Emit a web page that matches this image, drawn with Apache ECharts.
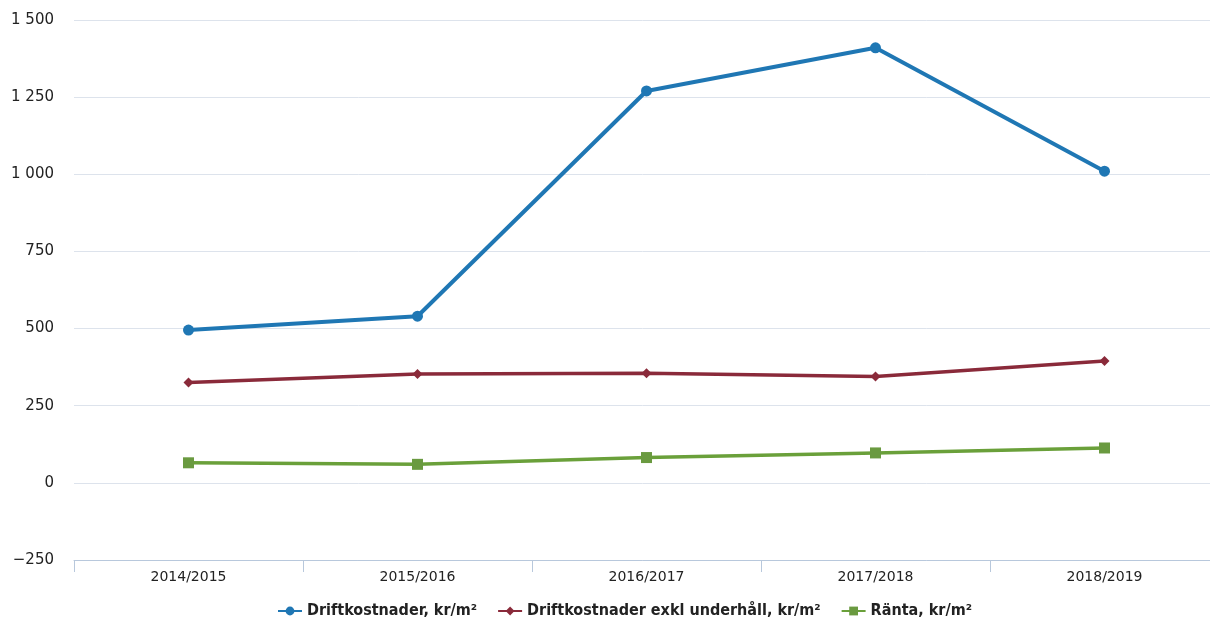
<!DOCTYPE html>
<html style="height: 100%">
    <head>
        <meta charset="utf-8">
        <title>Driftkostnader</title>
    </head>
    <body style="height: 100%; margin: 0; background: #fff">
        <div id="container" style="width:1210px;height:626px"></div>
        <script type="text/javascript" src="https://cdn.jsdelivr.net/npm/echarts@6/dist/echarts.min.js"></script>
        <script type="text/javascript">
var years = ['2014/2015', '2015/2016', '2016/2017', '2017/2018', '2018/2019'];
var drift = [495, 540, 1270, 1410, 1010];
var driftExkl = [325, 353, 355, 345, 395];
var ranta = [65, 60, 82, 97, 113];
var yTicks = [-250, 0, 250, 500, 750, 1000, 1250, 1500];

var dom = document.getElementById('container');
var myChart = echarts.init(dom);

function fmt(v) {
    var s = String(Math.abs(v)).replace(/\B(?=(\d{3})+(?!\d))/g, ' ');
    return (v < 0 ? '\u2212' : '') + s;
}

var legendFont = {fontFamily: 'Liberation Sans Narrow, DejaVu Sans Condensed, sans-serif', fontSize: 16, fontWeight: 'bold', color: '#222'};

var option = {
    backgroundColor: '#fff',
    animation: false,
    grid: {left: 74, width: 1145, top: 20, bottom: 66, outerBoundsMode: 'none', containLabel: false},
    legend: {
        bottom: 2,
        left: 272,
        itemGap: 20,
        itemWidth: 24,
        itemHeight: 11,
        textStyle: legendFont,
        data: ['Driftkostnader, kr/m²', 'Driftkostnader exkl underhåll, kr/m²', 'Ränta, kr/m²']
    },
    xAxis: {
        type: 'category',
        data: years,
        boundaryGap: true,
        axisLine: {onZero: false, lineStyle: {color: '#b8c8dc', width: 1}},
        axisTick: {show: true, length: 12, lineStyle: {color: '#b8c8dc'}},
        axisLabel: {color: '#222', fontSize: 14, margin: 10, fontFamily: 'DejaVu Sans, sans-serif'}
    },
    yAxis: {
        type: 'value',
        min: yTicks[0],
        max: yTicks[yTicks.length - 1],
        interval: 250,
        axisLine: {show: false},
        axisTick: {show: false},
        splitLine: {lineStyle: {color: '#dde3ec', width: 1}},
        axisLabel: {color: '#222', fontSize: 15, margin: 20, fontFamily: 'DejaVu Sans, sans-serif', formatter: fmt}
    },
    series: [{
        name: 'Driftkostnader, kr/m²',
        type: 'line',
        data: drift,
        symbol: 'circle',
        symbolSize: 11,
        lineStyle: {color: '#1f77b4', width: 4},
        itemStyle: {color: '#1f77b4'}
    }, {
        name: 'Driftkostnader exkl underhåll, kr/m²',
        type: 'line',
        data: driftExkl,
        symbol: 'diamond',
        symbolSize: 10,
        lineStyle: {color: '#8a2a3a', width: 3.5},
        itemStyle: {color: '#8a2a3a'}
    }, {
        name: 'Ränta, kr/m²',
        type: 'line',
        data: ranta,
        symbol: 'rect',
        symbolSize: 11,
        lineStyle: {color: '#6aa03a', width: 3.5},
        itemStyle: {color: '#6a9a40'}
    }]
};
myChart.setOption(option);
        </script>
    </body>
</html>
